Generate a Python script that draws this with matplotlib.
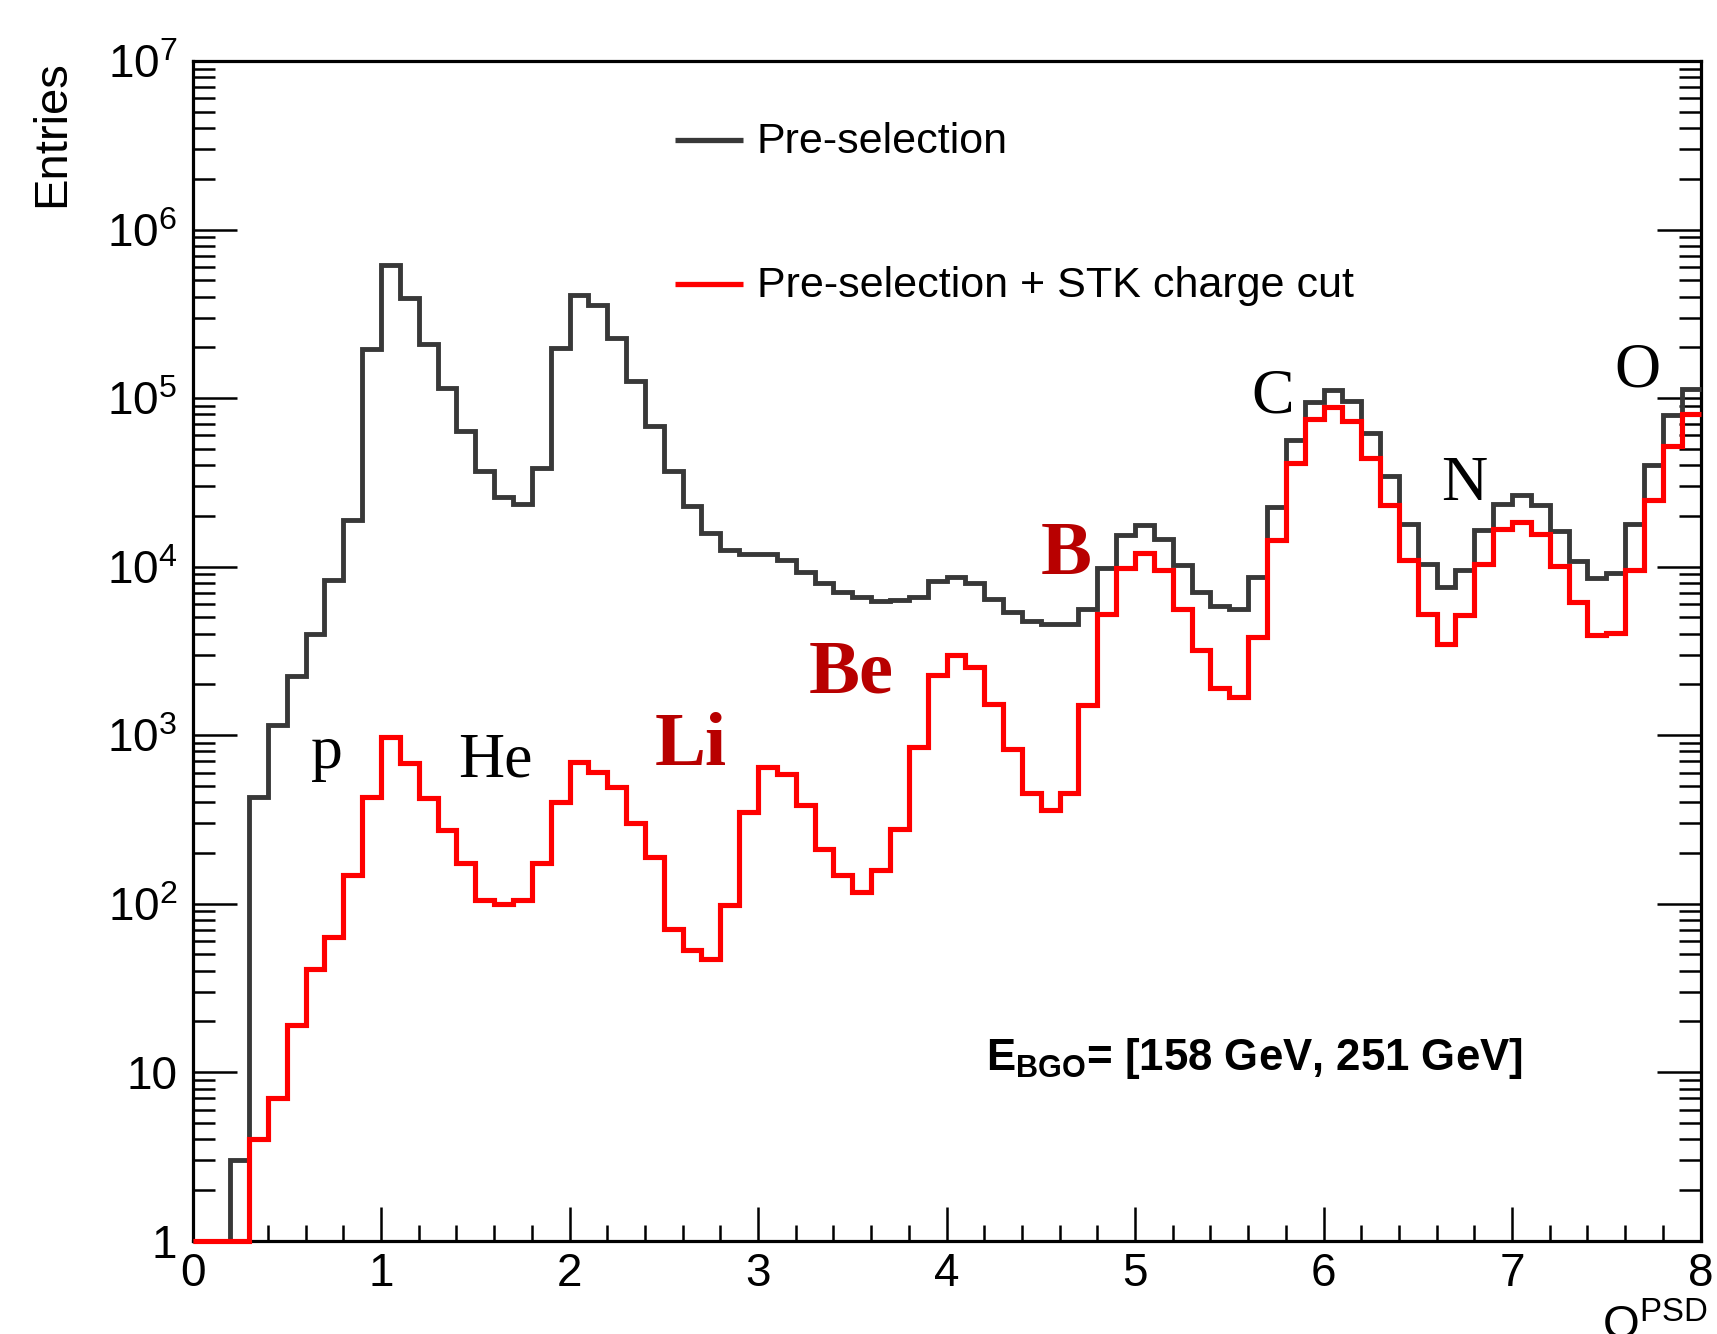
import numpy as np
import matplotlib
matplotlib.use("Agg")
import matplotlib.pyplot as plt
from matplotlib.ticker import FixedLocator, NullFormatter

# ---------------- data ----------------
bin_edges = np.linspace(0.0, 8.0, 81)

pre_selection = [
    1, 1, 3, 430, 1150, 2250, 4000, 8300, 19000, 196000,
    620000, 395000, 210000, 114000, 64000, 37000, 26000, 23500, 38600, 199000,
    407000, 355000, 228000, 126000, 68000, 37000, 22800, 15800, 12500, 11900,
    11800, 11000, 9300, 8000, 7100, 6600, 6250, 6300, 6600, 8200,
    8700, 8000, 6450, 5400, 4750, 4550, 4550, 5600, 9800, 15500,
    17600, 14600, 10200, 7100, 5800, 5600, 8700, 22500, 56000, 95000,
    111000, 96000, 62000, 34500, 18000, 10300, 7600, 9600, 16400, 23600,
    26700, 23300, 16300, 10800, 8500, 9200, 17800, 39800, 79000, 113000,
]

stk_charge_cut = [
    1, 1, 1, 4.0, 7.0, 19, 41, 63, 147, 427,
    980, 680, 425, 272, 174, 105, 100, 105, 174, 400,
    695, 604, 493, 299, 190, 71, 53, 46.7, 98, 350,
    643, 586, 384, 212, 147, 117, 158, 279, 851, 2265,
    2977, 2540, 1540, 832, 454, 359, 454, 1504, 5200, 9800,
    12000, 9600, 5600, 3180, 1900, 1680, 3800, 14400, 41000, 75500,
    88500, 73000, 44200, 23300, 11000, 5200, 3460, 5140, 10300, 16600,
    18500, 15600, 10100, 6200, 3950, 4050, 9600, 25000, 52000, 80000,
]

legend_labels = ["Pre-selection", "Pre-selection + STK charge cut"]
black_labels = ["p", "He", "C", "N", "O"]
red_labels = ["Li", "Be", "B"]
energy_text = r"$\mathbf{E_{BGO}}$= [158 GeV, 251 GeV]"
x_title = r"$\mathrm{Q^{PSD}}$"
y_title = "Entries"
x_ticks = [0, 1, 2, 3, 4, 5, 6, 7, 8]
y_ticks = [1, 10, 1e2, 1e3, 1e4, 1e5, 1e6, 1e7]
y_ticklabels = ["1", "10", r"$10^{2}$", r"$10^{3}$", r"$10^{4}$",
                r"$10^{5}$", r"$10^{6}$", r"$10^{7}$"]

# ---------------- style ----------------
plt.rcParams["font.family"] = ["Liberation Sans", "DejaVu Sans"]
plt.rcParams["mathtext.fontset"] = "custom"
plt.rcParams["mathtext.rm"] = "Liberation Sans"
plt.rcParams["mathtext.it"] = "Liberation Sans:italic"
plt.rcParams["mathtext.bf"] = "Liberation Sans:bold"

BLACK = "#383838"
RED = "#ff0000"
DARKRED = "#b80000"

W, H = 1717, 1334
fig = plt.figure(figsize=(W / 100, H / 100), dpi=100)
ax_l, ax_r = 192.5 / W, 1700.5 / W
ax_b, ax_t = 1 - 1240.7 / H, 1 - 61.0 / H
ax = fig.add_axes([ax_l, ax_b, ax_r - ax_l, ax_t - ax_b])

ax.stairs(pre_selection, bin_edges, baseline=None, color=BLACK, lw=3.5,
          clip_on=False, zorder=3)
ax.stairs(stk_charge_cut, bin_edges, baseline=None, color=RED, lw=3.7,
          clip_on=False, zorder=4)

ax.set_yscale("log")
ax.set_xlim(0, 8)
ax.set_ylim(1, 1e7)

# ticks
ax.xaxis.set_major_locator(FixedLocator(x_ticks))
ax.xaxis.set_minor_locator(FixedLocator(np.arange(0, 8.001, 0.2)))
ax.set_xticklabels([str(t) for t in x_ticks])
ax.yaxis.set_major_locator(FixedLocator(y_ticks))
minor_y = [m * 10 ** e for e in range(0, 7) for m in range(2, 10)]
ax.yaxis.set_minor_locator(FixedLocator(minor_y))
ax.yaxis.set_minor_formatter(NullFormatter())
ax.set_yticklabels(y_ticklabels)

ax.tick_params(axis="x", which="both", direction="in", top=False, bottom=True,
               labelsize=33, pad=8, color="black")
ax.tick_params(axis="x", which="major", length=24.5, width=1.8)
ax.tick_params(axis="x", which="minor", length=11.3, width=1.8)
ax.tick_params(axis="y", which="both", direction="in", left=True, right=True,
               labelsize=33, pad=11, color="black")
ax.tick_params(axis="y", which="major", length=32, width=1.8)
ax.tick_params(axis="y", which="minor", length=16, width=1.8)
for s in ax.spines.values():
    s.set_linewidth(2.3)
    s.set_color("black")

# axis titles
fig.text(52.6 / W, 1 - 60 / H, y_title, rotation=90, ha="center", va="top",
         fontsize=34)
fig.text(1708 / W, 1 - 1297 / H, x_title, ha="right", va="top", fontsize=34)

# legend (drawn manually)
leg_y = [0.9223, 0.8002]
for lab, col, yy in zip(legend_labels, [BLACK, RED], leg_y):
    ax.plot([0.320, 0.365], [yy + 0.011, yy + 0.011], transform=ax.transAxes,
            color=col, lw=3.8, solid_capstyle="butt", clip_on=False)
    ax.text(0.3743, yy, lab, transform=ax.transAxes, ha="left",
            va="baseline", fontsize=31)

# energy range text
ax.text(0.526, 0.1447, energy_text, transform=ax.transAxes, ha="left",
        va="baseline", fontsize=31.5, fontweight="bold")

# element labels
black_pos = [(0.712, 10 ** 2.802), (1.605, 10 ** 2.756), (5.732, 10 ** 4.917),
             (6.745, 10 ** 4.397), (7.663, 10 ** 5.07)]
red_pos = [(2.643, 10 ** 2.82), (3.493, 10 ** 3.25), (4.635, 10 ** 3.958)]
for lab, (xx, yy) in zip(black_labels, black_pos):
    ax.text(xx, yy, lab, ha="center", va="baseline", fontsize=46,
            family=["Liberation Serif"], color="black", zorder=5)
for lab, (xx, yy) in zip(red_labels, red_pos):
    ax.text(xx, yy, lab, ha="center", va="baseline", fontsize=55,
            family=["Liberation Serif"], fontweight="bold", color=DARKRED,
            zorder=5)

fig.savefig("out.png", dpi=100)
